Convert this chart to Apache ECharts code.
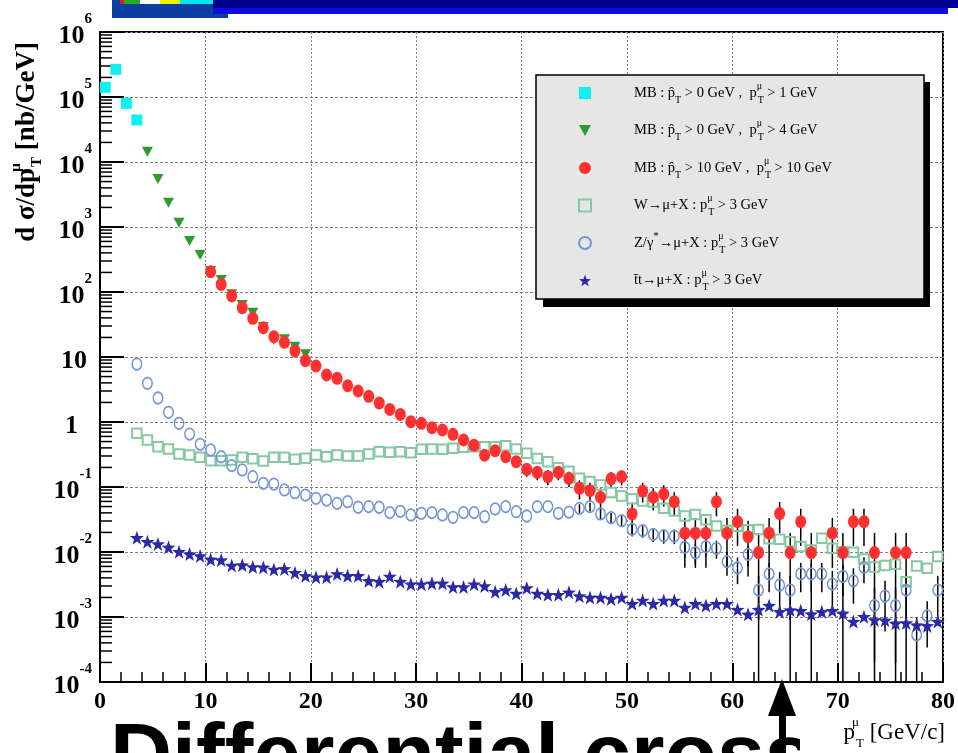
<!DOCTYPE html>
<html>
<head>
<meta charset="utf-8">
<script src="https://cdn.jsdelivr.net/npm/echarts@6/dist/echarts.min.js"></script>
<style>
html,body{margin:0;padding:0;background:#fff;overflow:hidden}
#chart{width:958px;height:753px}
</style>
</head>
<body>
<div id="chart"></div>
<script>
const _ = null;

// muon pT bin centres [GeV/c], 1 GeV bins
const ptBins = [0.5,1.5,2.5,3.5,4.5,5.5,6.5,7.5,8.5,9.5,
  10.5,11.5,12.5,13.5,14.5,15.5,16.5,17.5,18.5,19.5,
  20.5,21.5,22.5,23.5,24.5,25.5,26.5,27.5,28.5,29.5,
  30.5,31.5,32.5,33.5,34.5,35.5,36.5,37.5,38.5,39.5,
  40.5,41.5,42.5,43.5,44.5,45.5,46.5,47.5,48.5,49.5,
  50.5,51.5,52.5,53.5,54.5,55.5,56.5,57.5,58.5,59.5,
  60.5,61.5,62.5,63.5,64.5,65.5,66.5,67.5,68.5,69.5,
  70.5,71.5,72.5,73.5,74.5,75.5,76.5,77.5,78.5,79.5];

// dsigma/dpT [nb/GeV]; each list starts at the bin index given by its *From constant
const mbLowFrom = 0;
const mbLowVal = [141000, 267000, 80000, 44300];

const mbMidFrom = 4;
const mbMidVal = [14400, 5470, 2370, 1160, 610, 371, 210, 153, 92, 63,
  48, 29, 18.3, 18.7, 14.4, 11.0];

const mbHighFrom = 10;
const mbHighVal = [205, 131, 86.7, 57.3, 39.4, 28.2, 20.5, 16.8, 12.4, 8.77,
  7.27, 5.29, 4.70, 3.61, 3.0, 2.48, 1.96, 1.56, 1.31, 1.01,
  0.955, 0.817, 0.753, 0.647, 0.528, 0.438, 0.308, 0.361, 0.292, 0.245,
  0.187, 0.168, 0.144, 0.168, 0.136, 0.0955, 0.0877, 0.0695, 0.134, 0.144,
  0.0385, 0.0867, 0.0695, 0.078, 0.0594, 0.0195, 0.0195, 0.0195, 0.0594, 0.0195,
  0.0293, 0.0172, 0.0098, 0.0195, 0.039, 0.0098, 0.0293, 0.0098, _, 0.0195,
  0.0098, 0.0293, 0.0293, 0.0098, _, 0.0098, 0.0098];
const mbHighErr = [1.42, 1.13, 0.92, 0.75, 0.62, 0.53, 0.45, 0.41, 0.35, 0.29,
  0.27, 0.23, 0.21, 0.19, 0.17, 0.16, 0.14, 0.12, 0.11, 0.10,
  0.097, 0.089, 0.086, 0.080, 0.072, 0.066, 0.055, 0.059, 0.053, 0.049,
  0.043, 0.041, 0.038, 0.041, 0.036, 0.031, 0.029, 0.026, 0.036, 0.038,
  0.0195, 0.029, 0.026, 0.028, 0.024, 0.0138, 0.0138, 0.0138, 0.024, 0.0138,
  0.0169, 0.013, 0.0098, 0.0138, 0.0195, 0.0098, 0.0169, 0.0098, _, 0.0138,
  0.0098, 0.0169, 0.0169, 0.0098, _, 0.0098, 0.0098];

const wFrom = 3;
const wVal = [0.67, 0.528, 0.417, 0.384, 0.322, 0.311, 0.286,
  0.254, 0.254, 0.26, 0.286, 0.272, 0.251, 0.286, 0.286, 0.267, 0.277,
  0.311, 0.292, 0.311, 0.300, 0.300, 0.322, 0.349, 0.342, 0.349, 0.337,
  0.380, 0.384, 0.380, 0.394, 0.408, 0.417, 0.417, 0.417, 0.431, 0.385,
  0.33, 0.275, 0.245, 0.198, 0.175, 0.136, 0.121, 0.107, 0.0822, 0.0728,
  0.0658, 0.061, 0.0588, 0.047, 0.0428, 0.0358, 0.0378, 0.0314, 0.0251, 0.0214,
  0.0249, 0.022, 0.0222, 0.016, 0.0157, 0.0144, 0.0121, 0.0107, 0.0163, 0.0114,
  0.0101, 0.0099, 0.0078, 0.0059, 0.0062, 0.0065, 0.0035, 0.0061, 0.0056, 0.0085];

const zFrom = 3;
const zVal = [7.8, 3.94, 2.34, 1.41, 0.955, 0.653, 0.454,
  0.371, 0.292, 0.213, 0.183, 0.144, 0.114, 0.111, 0.090, 0.0817, 0.0753,
  0.067, 0.063, 0.0561, 0.0594, 0.0488, 0.0498, 0.0488, 0.0403, 0.0423, 0.0371,
  0.0394, 0.0403, 0.0371, 0.0342, 0.0403, 0.0403, 0.0349, 0.0459, 0.0498, 0.0417,
  0.0358, 0.0498, 0.0498, 0.0394, 0.041, 0.047, 0.0498, 0.0385, 0.0337, 0.0303,
  0.0223, 0.0213, 0.0187, 0.0178, 0.0176, 0.0118, 0.00975, 0.0121, 0.0114, 0.0071,
  0.0057, 0.0092, 0.0026, 0.0046, 0.0031, 0.0026, 0.0046, 0.0046, 0.0046, 0.0032,
  0.0042, 0.0036, 0.0058, 0.0015, 0.0021, 0.0015, 0.0026, 0.00053, 0.00104, 0.0026];
const zErrFrom = 45;
const zErr = [0.0072, 0.0074, 0.0065, 0.0061, 0.0058,
  0.005, 0.0048, 0.0045, 0.0044, 0.0044, 0.0036, 0.0033, 0.0036, 0.0035, 0.0028,
  0.0025, 0.0032, 0.0017, 0.0022, 0.0018, 0.0017, 0.0022, 0.0022, 0.0022, 0.0019,
  0.0021, 0.002, 0.0025, 0.0013, 0.0015, 0.0013, 0.0017, 0.00045, 0.0007, 0.0017];

const ttFrom = 3;
const ttVal = [0.0166, 0.0144, 0.0133, 0.0118, 0.0101, 0.0093, 0.0087,
  0.0077, 0.0075, 0.0062, 0.0063, 0.0059, 0.0058, 0.0054, 0.0055, 0.0048, 0.0043,
  0.0041, 0.0041, 0.0046, 0.0043, 0.0043, 0.0036, 0.0035, 0.0042, 0.0035, 0.0032,
  0.0032, 0.0033, 0.0033, 0.0029, 0.0029, 0.0032, 0.0030, 0.00245, 0.0026, 0.0023,
  0.0028, 0.0023, 0.0022, 0.0022, 0.0024, 0.0021, 0.0020, 0.0020, 0.0019, 0.0020,
  0.0016, 0.0018, 0.0016, 0.0018, 0.0018, 0.0014, 0.0016, 0.0015, 0.0016, 0.0016,
  0.0013, 0.0011, 0.0013, 0.0015, 0.0012, 0.00128, 0.00125, 0.00111, 0.0012, 0.00125,
  0.00114, 0.00085, 0.00101, 0.0009, 0.00089, 0.0008, 0.00081, 0.00075, 0.00073, 0.00085];

const yMin = 1e-4, yMax = 1e6;
const xTicks = { min: 0, max: 80, step: 10 };

const names = ['mbLow', 'mbMid', 'mbHigh', 'w', 'z', 'tt'];
const legendText = {
  mbLow:  'MB : p\u0302{t|T} > 0 GeV ,  p{u|\u03bc}{t|T} > 1 GeV',
  mbMid:  'MB : p\u0302{t|T} > 0 GeV ,  p{u|\u03bc}{t|T} > 4 GeV',
  mbHigh: 'MB : p\u0302{t|T} > 10 GeV ,  p{u|\u03bc}{t|T} > 10 GeV',
  w:      'W\u2192\u03bc+X : p{u|\u03bc}{t|T} > 3 GeV',
  z:      'Z/\u03b3{s|*}\u2192\u03bc+X : p{u|\u03bc}{t|T} > 3 GeV',
  tt:     't\u0304t\u2192\u03bc+X : p{u|\u03bc}{t|T} > 3 GeV'
};

function points(from, vals) {
  const out = [];
  vals.forEach((v, i) => { if (v != null) out.push([ptBins[from + i], v]); });
  return out;
}
function errorPoints(errFrom, errs, valFrom, vals) {
  const out = [];
  errs.forEach((e, i) => {
    const v = vals[errFrom + i - valFrom];
    if (e != null && v != null) out.push([ptBins[errFrom + i], v, e]);
  });
  return out;
}

// ROOT-style log minor ticks (2..9 x 10^n)
const minorTickVals = [];
for (let d = -4; d < 6; d++) for (let k = 2; k <= 9; k++) minorTickVals.push([xTicks.min, k * Math.pow(10, d)]);

const serif = '"Liberation Serif", "Times New Roman", serif';
const STAR = 'path://M0,-10L2.35,-3.24L9.51,-3.09L3.8,1.24L5.88,8.09L0,4L-5.88,8.09L-3.8,1.24L-9.51,-3.09L-2.35,-3.24Z';
const TRI_DOWN = 'path://M0,0L10,0L5,9Z';

function errorBars(data, colour) {
  return {
    type: 'custom', silent: true, z: 2, clip: true,
    data: data,
    encode: { x: 0, y: 1 },
    renderItem: (params, api) => {
      const x = api.value(0), y = api.value(1), s = api.value(2);
      const lo = Math.max(y - s, yMin), hi = Math.min(y + s, yMax);
      const p1 = api.coord([x, hi]), p2 = api.coord([x, lo]);
      return { type: 'line', shape: { x1: p1[0], y1: p1[1], x2: p2[0], y2: p2[1] },
               style: { stroke: colour, lineWidth: 1.5 } };
    }
  };
}

const chart = echarts.init(document.getElementById('chart'), null, { renderer: 'canvas' });

const option = {
  animation: false,
  backgroundColor: '#fff',
  grid: { left: 100, right: 13, top: 32, bottom: 71, show: true, borderColor: '#000', borderWidth: 2, backgroundColor: 'transparent' },
  xAxis: {
    type: 'value', min: xTicks.min, max: xTicks.max, interval: xTicks.step,
    axisLine: { onZero: false, lineStyle: { color: '#000', width: 2 } },
    axisTick: { inside: true, length: 19, lineStyle: { color: '#000', width: 2 } },
    minorTick: { show: true, splitNumber: 5, length: 10, lineStyle: { color: '#000', width: 1.5 } },
    splitLine: { show: true, lineStyle: { color: '#808080', width: 1, type: [2, 2] } },
    axisLabel: { margin: 8, color: '#000', fontFamily: serif, fontWeight: 'bold', fontSize: 24 }
  },
  yAxis: {
    type: 'log', logBase: 10, min: yMin, max: yMax, splitNumber: 10,
    axisLine: { lineStyle: { color: '#000', width: 2 } },
    axisTick: { inside: true, length: 24, lineStyle: { color: '#000', width: 2 } },
    splitLine: { show: true, lineStyle: { color: '#808080', width: 1, type: [3, 2] } },
    axisLabel: {
      margin: 8, showMinLabel: true, showMaxLabel: true, padding: [8, 0, 0, 0],
      formatter: v => {
        const e = Math.round(Math.log10(v));
        if (e === 0) return '{one|1}';
        if (e === 1) return '{ten|10}';
        return '{b|10}{s|' + e + '}';
      },
      rich: {
        b:   { fontFamily: serif, fontWeight: 'bold', fontSize: 26, lineHeight: 48, color: '#000' },
        ten: { fontFamily: serif, fontWeight: 'bold', fontSize: 26, lineHeight: 48, color: '#000', padding: [0, 5, 0, 0] },
        one: { fontFamily: serif, fontWeight: 'bold', fontSize: 26, lineHeight: 48, color: '#000', padding: [0, 14, 0, 0] },
        s:   { fontFamily: serif, fontWeight: 'bold', fontSize: 15, lineHeight: 16, verticalAlign: 'top', color: '#000' }
      }
    }
  },
  legend: {
    orient: 'vertical', left: 578, top: 81, padding: 0,
    itemWidth: 12, itemHeight: 12, itemGap: 13.5,
    data: names, selectedMode: false, z: 6,
    formatter: n => legendText[n],
    textStyle: {
      fontFamily: serif, fontSize: 14.5, color: '#000', lineHeight: 24, padding: [0, 0, 0, 38],
      rich: {
        t: { fontFamily: serif, fontSize: 10, lineHeight: 12, verticalAlign: 'bottom', color: '#000' },
        u: { fontFamily: serif, fontSize: 10, lineHeight: 12, verticalAlign: 'top', width: 1, align: 'left', color: '#000' },
        s: { fontFamily: serif, fontSize: 11, lineHeight: 12, verticalAlign: 'top', color: '#000' }
      }
    }
  },
  series: [
    // y-axis minor ticks
    {
      type: 'custom', silent: true, z: 3, clip: false, data: minorTickVals, encode: { x: 0, y: 1 },
      renderItem: (params, api) => {
        const p = api.coord([api.value(0), api.value(1)]);
        return { type: 'line', shape: { x1: p[0], y1: p[1], x2: p[0] + 12, y2: p[1] }, style: { stroke: '#000', lineWidth: 1.5 } };
      }
    },
    errorBars(errorPoints(mbHighFrom, mbHighErr, mbHighFrom, mbHighVal), '#000'),
    errorBars(errorPoints(zErrFrom, zErr, zFrom, zVal), '#000'),
    { name: 'w', type: 'scatter', z: 3, data: points(wFrom, wVal), symbol: 'rect', symbolSize: 9.5,
      itemStyle: { color: 'rgba(0,0,0,0)', borderColor: '#86c8a0', borderWidth: 2, opacity: 1 } },
    { name: 'z', type: 'scatter', z: 3, data: points(zFrom, zVal), symbol: 'circle', symbolSize: [9.5, 11.5],
      itemStyle: { color: 'rgba(0,0,0,0)', borderColor: '#7396d6', borderWidth: 1.6, opacity: 1 } },
    { name: 'tt', type: 'scatter', z: 3, data: points(ttFrom, ttVal), symbol: STAR, symbolSize: 14,
      itemStyle: { color: '#2a2aa6', opacity: 1 } },
    { name: 'mbLow', type: 'scatter', z: 4, data: points(mbLowFrom, mbLowVal), symbol: 'rect', symbolSize: [11, 11],
      itemStyle: { color: '#10f0f0', opacity: 1 } },
    { name: 'mbMid', type: 'scatter', z: 4, data: points(mbMidFrom, mbMidVal), symbol: TRI_DOWN, symbolSize: [11, 10],
      itemStyle: { color: '#2f9b2f', opacity: 1 } },
    { name: 'mbHigh', type: 'scatter', z: 5, data: points(mbHighFrom, mbHighVal), symbol: 'circle', symbolSize: [11, 13],
      itemStyle: { color: '#ff3030', opacity: 1 } }
  ],
  graphic: [
    // slide header strip
    { type: 'rect', z: 10, shape: { x: 112, y: 0, width: 116, height: 18 }, style: { fill: '#0b3e9e' } },
    { type: 'rect', z: 11, shape: { x: 213, y: 0, width: 735, height: 14 }, style: { fill: '#0c0ce0' } },
    { type: 'rect', z: 12, shape: { x: 213, y: 0, width: 745, height: 8 }, style: { fill: '#00008f' } },
    { type: 'rect', z: 12, shape: { x: 120, y: 0, width: 4, height: 4 }, style: { fill: '#e02020' } },
    { type: 'rect', z: 12, shape: { x: 124, y: 0, width: 16, height: 4 }, style: { fill: '#22b022' } },
    { type: 'rect', z: 12, shape: { x: 140, y: 0, width: 20, height: 4 }, style: { fill: '#ffffff' } },
    { type: 'rect', z: 12, shape: { x: 160, y: 0, width: 20, height: 4 }, style: { fill: '#f0f000' } },
    { type: 'rect', z: 12, shape: { x: 180, y: 0, width: 33, height: 4 }, style: { fill: '#00e8f0' } },
    // legend frame with drop shadow
    { type: 'rect', z: 4, shape: { x: 543, y: 82, width: 387, height: 225 }, style: { fill: '#000' } },
    { type: 'rect', z: 5, shape: { x: 536, y: 75, width: 388, height: 224 }, style: { fill: '#e6e6e6', stroke: '#000', lineWidth: 1.5 } },
    // axis titles
    { type: 'text', z: 10, x: 27, y: 142, rotation: Math.PI / 2,
      style: { text: '{m|d \u03c3/dp}{u|\u03bc}{t|T}{m| [nb/GeV]}', align: 'center', verticalAlign: 'middle',
        rich: {
          m: { fontFamily: serif, fontWeight: 'bold', fontSize: 27, lineHeight: 36, fill: '#000' },
          u: { fontFamily: serif, fontWeight: 'bold', fontSize: 15, lineHeight: 16, verticalAlign: 'top', width: 1, align: 'left', fill: '#000' },
          t: { fontFamily: serif, fontWeight: 'bold', fontSize: 15, lineHeight: 16, verticalAlign: 'bottom', fill: '#000' }
        } } },
    // slide caption below the plot
    { type: 'text', z: 8, x: 110, y: 716,
      style: { text: 'Differential cross sections', font: 'bold 86px "Liberation Sans", Arial, sans-serif', fill: '#000', align: 'left', verticalAlign: 'top' } },
    // white canvas area around the x-axis title
    { type: 'rect', z: 9, shape: { x: 800, y: 714, width: 158, height: 39 }, style: { fill: '#fff' } },
    { type: 'text', z: 10, x: 945, y: 733,
      style: { text: '{m|p}{u|\u03bc}{t|T}{m| [GeV/c]}', align: 'right', verticalAlign: 'middle',
        rich: {
          m: { fontFamily: serif, fontSize: 23, lineHeight: 34, fill: '#000' },
          u: { fontFamily: serif, fontSize: 13, lineHeight: 14, verticalAlign: 'top', width: 1, align: 'left', fill: '#000' },
          t: { fontFamily: serif, fontSize: 13, lineHeight: 14, verticalAlign: 'bottom', fill: '#000' }
        } } },
    // pointer arrow
    { type: 'polygon', z: 20, shape: { points: [[782, 679], [768, 716], [796, 716]] }, style: { fill: '#000' } },
    { type: 'rect', z: 20, shape: { x: 779, y: 715, width: 7, height: 40 }, style: { fill: '#000' } }
  ]
};

chart.setOption(option);
</script>
</body>
</html>
